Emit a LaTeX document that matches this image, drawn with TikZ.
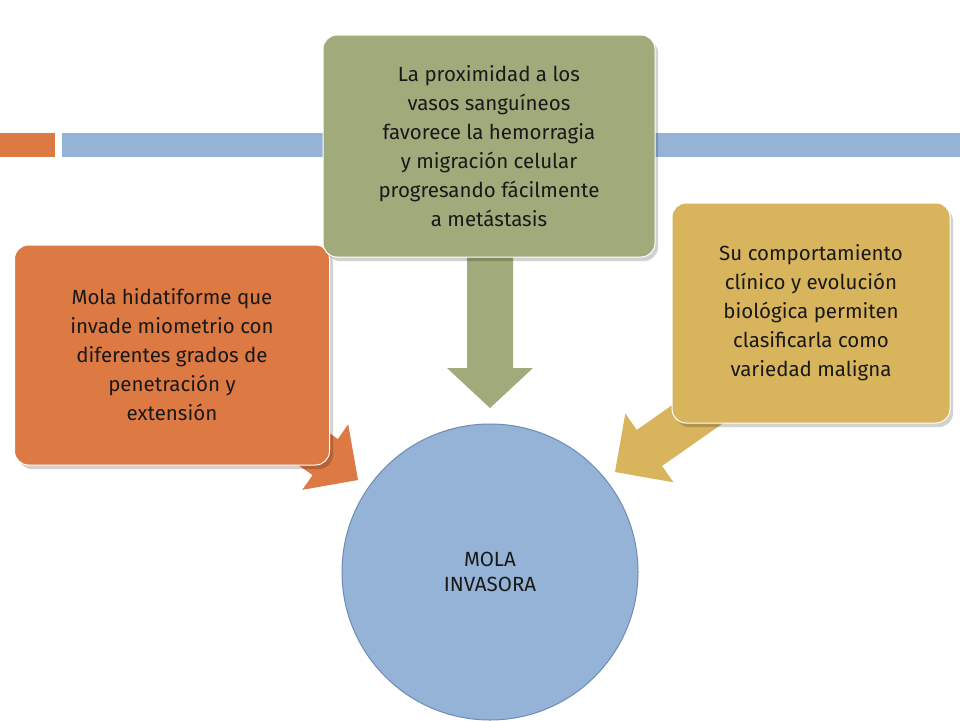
\documentclass[tikz,border=0pt]{standalone}
\usepackage{fontspec}
\setmainfont{Fira Sans}
\begin{document}
\begin{tikzpicture}[x=1pt,y=-1pt,
  box/.style={rounded corners=14pt,draw=white,line width=1pt,align=center,inner sep=0pt,text=black!90,font=\fontsize{20.5}{29}\selectfont},
  shade/.style={fill=black,opacity=0.18,rounded corners=14pt},
  barrow/.style={line width=0.6pt}]
\useasboundingbox (0,0) rectangle (960,720);
\fill[white] (0,0) rectangle (960,720);
\fill[fill={rgb,255:red,221;green,121;blue,66}] (0,133) rectangle (55,157);
\fill[fill={rgb,255:red,149;green,179;blue,215}] (62,133) rectangle (960,157);
% arrows
\begin{scope}[shift={(490,408)},rotate=-90]
\fill[fill={rgb,255:red,160;green,170;blue,122}] (0,0)--(-40,-43)--(-40,-23)--(-160,-23)--(-160,23)--(-40,23)--(-40,43)--cycle;
\end{scope}
\begin{scope}[shift={(358,480)},rotate=-35]
\fill[fill={rgb,255:red,221;green,121;blue,66}] (0,0)--(-40,-40)--(-40,-22)--(-150,-22)--(-150,22)--(-40,22)--(-40,40)--cycle;
\end{scope}
\begin{scope}[shift={(615,472)},rotate=-145]
\fill[fill={rgb,255:red,216;green,180;blue,92}] (0,0)--(-42,-42)--(-42,-22)--(-150,-22)--(-150,22)--(-42,22)--(-42,42)--cycle;
\end{scope}
% circle
\node[circle,minimum size=296pt,fill={rgb,255:red,149;green,179;blue,215},draw={rgb,255:red,110;green,140;blue,180},line width=1pt,font=\fontsize{20.5}{25}\selectfont,align=center,text=black!90] (c) at (490,572) {MOLA\\INVASORA};
% boxes
\fill[shade] (18,249) rectangle (333,469);
\node[box,fill={rgb,255:red,221;green,121;blue,66},minimum width=315pt,minimum height=220pt] (o) at (172,355) {Mola hidatiforme que\\invade miometrio con\\diferentes grados de\\penetración y\\extensión};
\fill[shade] (326,39) rectangle (658,261);
\node[box,fill={rgb,255:red,160;green,170;blue,122},minimum width=332pt,minimum height=222pt] (g) at (489,146) {La proximidad a los\\vasos sanguíneos\\favorece la hemorragia\\y migración celular\\progresando fácilmente\\a metástasis};
\fill[shade] (675,207) rectangle (953,427);
\node[box,fill={rgb,255:red,216;green,180;blue,92},minimum width=278pt,minimum height=220pt] (y) at (811,313) {Su comportamiento\\clínico y evolución\\biológica permiten\\clasificarla como\\variedad maligna};
\end{tikzpicture}
\end{document}
